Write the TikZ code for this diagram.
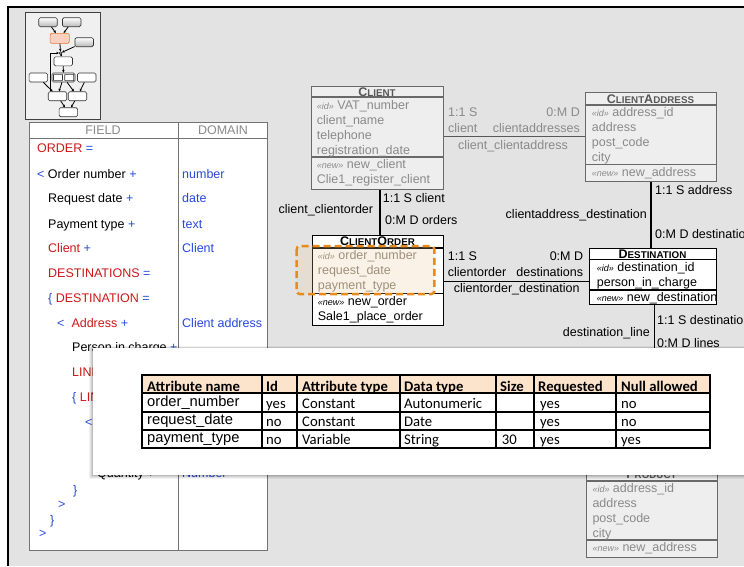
\documentclass[tikz,border=0pt]{standalone}
\usepackage{fontspec}
\setmainfont{Liberation Sans}
\newfontfamily\carlito{Carlito}
\usetikzlibrary{arrows.meta,calc}
\definecolor{bg}{RGB}{227,227,227}
\definecolor{redtxt}{RGB}{204,24,24}
\definecolor{bluetxt}{RGB}{40,72,222}
\definecolor{graytxt}{RGB}{138,138,138}
\definecolor{grayhd}{RGB}{88,88,88}
\definecolor{grayline}{RGB}{105,105,105}
\definecolor{grayfill}{RGB}{238,238,238}
\definecolor{peach}{RGB}{252,228,204}
\definecolor{hlorange}{RGB}{232,138,28}
\definecolor{hltxt}{RGB}{135,128,115}
\definecolor{thumbor}{RGB}{228,120,50}
\definecolor{thumbfill}{RGB}{252,208,192}
\newcommand{\redt}[1]{\textcolor{redtxt}{#1}}
\newcommand{\bluet}[1]{\textcolor{bluetxt}{#1}}
\newcommand{\hdr}[2]{{\fontsize{12.5}{12.5}\selectfont #1}{\fontsize{9.8}{9.8}\selectfont #2}}
\newcommand{\stid}{{\fontsize{9}{9}\selectfont\itshape «id»} }
\newcommand{\stnew}{{\fontsize{9}{9}\selectfont\itshape «new»} }
\tikzset{
  lbl/.style={inner sep=0pt, text height=9pt, text depth=0pt, font=\fontsize{12.5}{14}\selectfont},
  lw/.style={lbl, anchor=west},
  le/.style={lbl, anchor=east},
  lc/.style={lbl, anchor=center},
  hd/.style={lbl, anchor=center, font=\bfseries},
  entblack/.style={draw=black, line width=1.3pt, fill=white, inner sep=0pt, anchor=north west},
  entgray/.style={draw=grayline, line width=1.1pt, fill=grayfill, inner sep=0pt, anchor=north west},
  sepblack/.style={draw=black, line width=1.3pt},
  sepgray/.style={draw=grayline, line width=1.1pt},
  conblack/.style={draw=black, line width=1.3pt},
  congray/.style={draw=grayhd, line width=1.1pt},
  tb/.style={draw=black!80, rounded corners=1.5pt, line width=0.6pt, inner sep=0pt, minimum width=18.5pt, minimum height=9pt, fill=white},
  tbgray/.style={tb, top color=white, bottom color=black!28},
  tarr/.style={-{Stealth[length=2.6pt,width=2.6pt]}, line width=0.8pt},
  cellh/.style={inner sep=0pt, anchor=west, text height=9pt, text depth=0pt, font=\carlito\bfseries\fontsize{14.7}{16}\selectfont},
  cellc/.style={inner sep=0pt, anchor=west, text height=9pt, text depth=0pt, font=\carlito\fontsize{14.7}{16}\selectfont},
  cella/.style={inner sep=0pt, anchor=west, text height=10pt, text depth=0pt, font=\fontsize{14.7}{16}\selectfont},
}
\begin{document}
\begin{tikzpicture}[x=1pt,y=-1pt]
\useasboundingbox (0,0) rectangle (744,566);
\fill[bg] (8,7) rectangle (744,566);
\draw[line width=1.6pt] (8,566) -- (8,7) -- (744,7);

% ---------- thumbnail ----------
\node[draw=black!75, fill=black!6, line width=0.8pt, inner sep=0pt, minimum width=75pt, minimum height=107pt, anchor=north west] (thumb) at (25,11.5) {};
\node[tbgray] (tA) at (48,22.2) {};
\node[tbgray] (tB) at (71.7,22.2) {};
\node[tb, draw=thumbor, fill=thumbfill, minimum width=19.3pt, minimum height=10pt] (tC) at (59.7,38.3) {};
\node[tbgray] (tD) at (84.2,42.2) {};
\node[tb] (tE) at (63.2,61.3) {};
\node[tb] (tF) at (38.3,77.5) {};
\node[tb, minimum width=23pt] (tG) at (63.5,77.5) {};
\node[tb, rounded corners=0.5pt, minimum width=9pt, minimum height=6.4pt] (tG1) at (58,77.5) {};
\node[tb, rounded corners=0.5pt, minimum width=9pt, minimum height=6.4pt] (tG2) at (69.2,77.5) {};
\node[tb] (tH) at (86.7,77.5) {};
\node[tb] (tI) at (57.5,96.2) {};
\node[tb] (tJ) at (77.5,96.2) {};
\node[tb] (tK) at (68.3,112.2) {};
\node[circle, draw=black, line width=0.6pt, fill=white, inner sep=0pt, minimum size=2.6pt] (tjn) at (60.5,53) {};
\draw[tarr] (tA) -- (tC);
\draw[tarr] (tB) -- (tC);
\draw[tarr] (tC) -- (tjn);
\draw[tarr] (tD) -- (tjn);
\draw[tarr] ([xshift=2.4pt]tI.north west) |- (tjn);
\draw[tarr] (tjn) -- (tE);
\draw[tarr] (tE) -- (tG);
\draw[tarr] (tF) -- (tI);
\draw[tarr] (tG) -- (tI);
\draw[tarr] (tG) -- (tJ);
\draw[tarr] (tH) -- (tJ);
\draw[tarr] (tI) -- (tK);
\draw[tarr] (tJ) -- (tK);

% ---------- data dictionary table ----------
\node[draw=black!55, fill=white, line width=1pt, inner sep=0pt, minimum width=238pt, minimum height=428pt, anchor=north west] (ftab) at (29,122) {};
\draw[black!55, line width=1pt] (178,122) -- (178,550);
\draw[black!55, line width=1pt] (29,138) -- (267,138);
\node[lc, text=graytxt] (fh1) at (103,130) {FIELD};
\node[lc, text=graytxt] (fh2) at (223,130) {DOMAIN};
\node[lw] (f1) at (37,148) {\redt{ORDER} \bluet{=}};
\node[lw] (f2) at (37,174) {\bluet{<} Order number \bluet{+}};
\node[lw] (f3) at (48,198) {Request date \bluet{+}};
\node[lw] (f4) at (48,224) {Payment type \bluet{+}};
\node[lw] (f5) at (48,248) {\redt{Client} \bluet{+}};
\node[lw] (f6) at (48,273) {\redt{DESTINATIONS} \bluet{=}};
\node[lw] (f7) at (48,298) {\bluet{\{} \redt{DESTINATION} \bluet{=}};
\node[lw] (f8) at (57,323) {\bluet{<}\hspace{7pt}\redt{Address} \bluet{+}};
\node[lw] (f9) at (72,347) {Person in charge \bluet{+}};
\node[lw] (f10) at (72,372) {\redt{LINES} \bluet{=}};
\node[lw] (f11) at (72,397) {\bluet{\{} \redt{LINE} \bluet{=}};
\node[lw] (f12) at (85,422) {\bluet{<} \redt{Product} \bluet{+}};
\node[lw] (f13) at (97,473) {Quantity \bluet{+}};
\node[lw] (f14) at (73,490) {\bluet{\}}};
\node[lw] (f15) at (58,504) {\bluet{>}};
\node[lw] (f16) at (50,520) {\bluet{\}}};
\node[lw] (f17) at (39,533) {\bluet{>}};
\node[lw, text=bluetxt] (d2) at (182,174) {number};
\node[lw, text=bluetxt] (d3) at (182,198) {date};
\node[lw, text=bluetxt] (d4) at (182,224) {text};
\node[lw, text=bluetxt] (d5) at (182,248) {Client};
\node[lw, text=bluetxt] (d8) at (182,323) {Client address};
\node[lw, text=bluetxt] (d13) at (182,473) {Number};

% ---------- entity boxes ----------
% Client
\node[entgray, minimum width=132pt, minimum height=103pt] (client) at (311,86) {};
\draw[sepgray] (311,97) -- (443,97);
\draw[sepgray] (311,157) -- (443,157);
\node[hd, text=grayhd] (clienthd) at (377,91.5) {\hdr{C}{LIENT}};
\node[lw, text=graytxt] (cl1) at (316.7,104.7) {\stid VAT\_number};
\node[lw, text=graytxt] (cl2) at (316.7,119.7) {client\_name};
\node[lw, text=graytxt] (cl3) at (316.7,134.7) {telephone};
\node[lw, text=graytxt] (cl4) at (316.7,149.7) {registration\_date};
\node[lw, text=graytxt] (cl5) at (316.7,164.2) {\stnew new\_client};
\node[lw, text=graytxt] (cl6) at (316.7,178.7) {Clie1\_register\_client};

% ClientAddress
\node[entgray, minimum width=131pt, minimum height=89pt] (caddr) at (585,92) {};
\draw[sepgray] (585,105) -- (716,105);
\draw[sepgray] (585,164.5) -- (716,164.5);
\node[hd, text=grayhd] (caddrhd) at (650.5,98.5) {\hdr{C}{LIENT}\hdr{A}{DDRESS}};
\node[lw, text=graytxt] (ca1) at (591.7,111.5) {\stid address\_id};
\node[lw, text=graytxt] (ca2) at (591.7,126.8) {address};
\node[lw, text=graytxt] (ca3) at (591.7,142) {post\_code};
\node[lw, text=graytxt] (ca4) at (591.7,157) {city};
\node[lw, text=graytxt] (ca5) at (591.7,172.3) {\stnew new\_address};

% Product (partly hidden)
\node[entgray, minimum width=131pt, minimum height=91pt] (product) at (586,466) {};
\draw[sepgray] (586,481) -- (717,481);
\draw[sepgray] (586,540) -- (717,540);
\node[hd, text=grayhd] (producthd) at (651.5,473.5) {\hdr{P}{RODUCT}};
\node[lw, text=graytxt] (pr1) at (592.3,487.7) {\stid address\_id};
\node[lw, text=graytxt] (pr2) at (592.3,502.7) {address};
\node[lw, text=graytxt] (pr3) at (592.3,517.7) {post\_code};
\node[lw, text=graytxt] (pr4) at (592.3,532.7) {city};
\node[lw, text=graytxt] (pr5) at (592.3,547.3) {\stnew new\_address};

% ClientOrder
\node[entblack, minimum width=131pt, minimum height=90pt] (corder) at (312,234.5) {};
\draw[sepblack] (312,248) -- (443,248);
\draw[sepblack] (312,293.5) -- (443,293.5);
\node[hd] (corderhd) at (377.5,241.2) {\hdr{C}{LIENT}\hdr{O}{RDER}};
\node[lw, text=hltxt] (co1) at (317.7,255) {\stid order\_number};
\node[lw, text=hltxt] (co2) at (317.7,270) {request\_date};
\node[lw, text=hltxt] (co3) at (317.7,285) {payment\_type};
\node[lw] (co4) at (317.7,301) {\stnew new\_order};
\node[lw] (co5) at (317.7,315.7) {Sale1\_place\_order};

% Destination
\node[entblack, minimum width=127.5pt, minimum height=56pt] (dest) at (588.5,247.5) {};
\draw[sepblack] (588.5,259.5) -- (716,259.5);
\draw[sepblack] (588.5,290) -- (716,290);
\node[hd] (desthd) at (652.5,253.5) {\hdr{D}{ESTINATION}};
\node[lw] (de1) at (596.7,267.3) {\stid destination\_id};
\node[lw] (de2) at (596.7,281.7) {person\_in\_charge};
\node[lw] (de3) at (596.7,296.7) {\stnew new\_destination};

% ---------- connectors ----------
\coordinate (ccaY) at ($(client.north east)!0.4825!(client.south east)$);
\draw[congray] (ccaY) -- (ccaY -| caddr.west);
\node[lw, text=graytxt] (l1) at (448,112.3) {1:1 S};
\node[lw, text=graytxt] (l2) at (448,128) {client};
\node[le, text=graytxt] (l3) at (580,112.3) {0:M D};
\node[le, text=graytxt] (l4) at (580,128) {clientaddresses};
\node[lc, text=graytxt] (l5) at (513,144.7) {client\_clientaddress};

\draw[conblack] ([xshift=2.3pt]client.south) -- ([xshift=2.3pt]client.south |- corder.north);
\node[lw] (l6) at (382.7,197.7) {1:1 S client};
\node[lw] (l7) at (385,220) {0:M D orders};
\node[le] (l8) at (373.3,209) {client\_clientorder};

\draw[conblack] ([yshift=-1pt]corder.east) -- ([yshift=-1pt]corder.east -| dest.west);
\node[lw] (l9) at (447.7,256) {1:1 S};
\node[lw] (l10) at (447.7,271.7) {clientorder};
\node[le] (l11) at (583.3,256) {0:M D};
\node[le] (l12) at (583.3,271.7) {destinations};
\node[lc] (l13) at (516.7,287.7) {clientorder\_destination};

\draw[conblack] (caddr.south) -- (caddr.south |- dest.north);
\node[lw] (l14) at (655,190) {1:1 S address};
\node[lw] (l15) at (655,234) {0:M D destination};
\node[le] (l16) at (647,214) {clientaddress\_destination};

\coordinate (lineend) at (653.5,362);
\draw[conblack] ([xshift=1.3pt]dest.south) -- ([xshift=1.3pt]dest.south |- lineend);
\node[lw] (l17) at (657,320) {1:1 S destination};
\node[le] (l18) at (650,331.7) {destination\_line};
\node[lw] (l19) at (657,343.3) {0:M D lines};

% highlight of selected attributes
\draw[hlorange, line width=2.5pt, dash pattern=on 7pt off 4pt, rounded corners=3pt,
      fill={rgb,255:red,240;green,200;blue,150}, fill opacity=0.22] (296.7,246) rectangle (434.3,294);

% ---------- popup with attribute table ----------
\foreach \s/\o in {4/0.05,3/0.06,2/0.08,1/0.1} {
  \fill[black, opacity=\o] (93-\s,348-\s*0.5) rectangle (744,475+\s);
}
\fill[white] (93,348) rectangle (744,475);
\fill[peach] (142,375) rectangle (710,393);
\draw[black, line width=1.2pt] (142,375) rectangle (710,448);
\foreach \yy in {393,412,430} { \draw[black, line width=1.1pt] (142,\yy) -- (710,\yy); }
\foreach \xx in {262,297,400,496,534,616} { \draw[black, line width=1.1pt] (\xx,375) -- (\xx,448); }
\node[cellh] (h1) at (147,386.7) {Attribute name};
\node[cellh] (h2) at (266,386.7) {Id};
\node[cellh] (h3) at (302,386.7) {Attribute type};
\node[cellh] (h4) at (404,386.7) {Data type};
\node[cellh] (h5) at (500,386.7) {Size};
\node[cellh] (h6) at (538,386.7) {Requested};
\node[cellh] (h7) at (621,386.7) {Null allowed};
\node[cella] (r1a) at (147,401.7) {order\_number};
\node[cellc] (r1b) at (266,404) {yes};
\node[cellc] (r1c) at (302,404) {Constant};
\node[cellc] (r1d) at (404,404) {Autonumeric};
\node[cellc] (r1f) at (540,404) {yes};
\node[cellc] (r1g) at (621,404) {no};
\node[cella] (r2a) at (147,419.3) {request\_date};
\node[cellc] (r2b) at (266,422.3) {no};
\node[cellc] (r2c) at (302,422.3) {Constant};
\node[cellc] (r2d) at (404,422.3) {Date};
\node[cellc] (r2f) at (540,422.3) {yes};
\node[cellc] (r2g) at (621,422.3) {no};
\node[cella] (r3a) at (147,437.3) {payment\_type};
\node[cellc] (r3b) at (266,440) {no};
\node[cellc] (r3c) at (302,440) {Variable};
\node[cellc] (r3d) at (404,440) {String};
\node[cellc] (r3e) at (501.7,440) {30};
\node[cellc] (r3f) at (540,440) {yes};
\node[cellc] (r3g) at (621,440) {yes};
\end{tikzpicture}
\end{document}
